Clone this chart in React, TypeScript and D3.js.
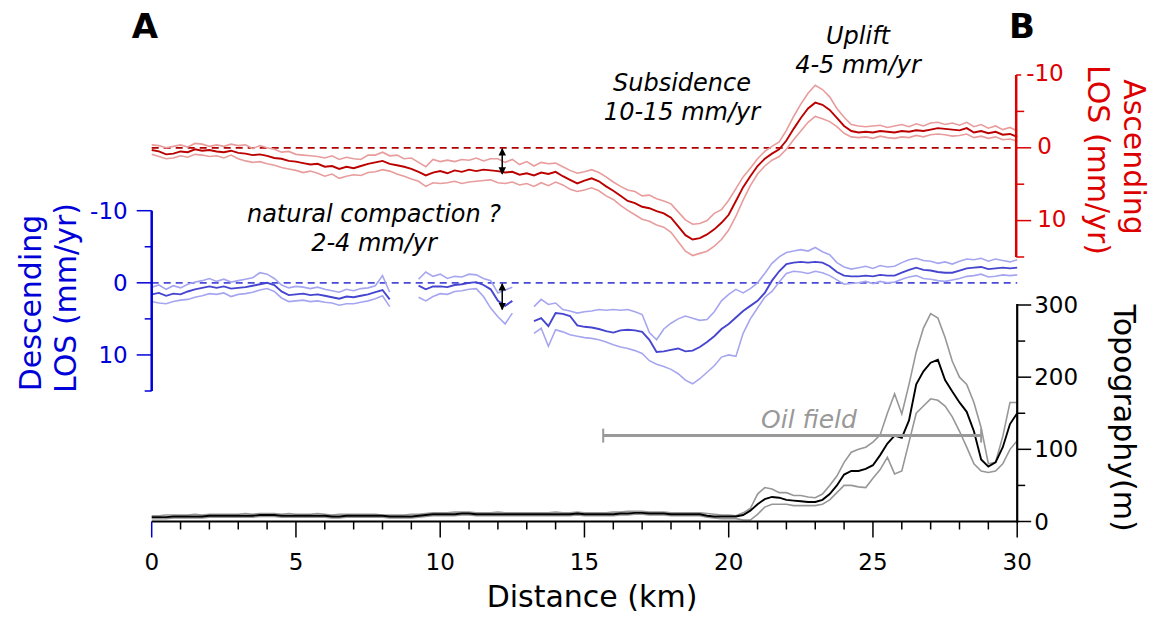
import React from "react";
import * as d3 from "d3";

// Sampling step along the profile (km)
const DIST_STEP_KM = 0.25;

// Ascending LOS velocity (mm/yr), mean and envelope
const ascMean = [
  0.3, 0.5, 0.9, 0.8, 0.5, 0.6, 0.2, 0.4, 0.3, 0.5, 0.6, 0.4, 0.7, 0.8, 1.0, 0.9, 1.1, 1.4, 1.5, 1.8, 1.9,
  2.1, 2.3, 2.2, 2.6, 2.5, 2.9, 2.6, 2.8, 2.5, 2.2, 2.0, 1.8, 2.2, 2.4, 2.6, 2.9, 3.3, 3.8, 3.4, 3.2,
  3.5, 3.1, 3.3, 3.0, 3.2, 3.0, 3.1, 3.2, 3.4, 3.3, 3.7, 3.5, 3.8, 3.4, 3.6, 3.3, 3.9, 4.4, 4.9, 4.5,
  4.2, 4.6, 5.3, 5.9, 6.6, 7.3, 7.6, 8.1, 8.3, 8.7, 9.0, 9.6, 10.8, 12.0, 12.6, 12.4, 11.9, 11.2, 10.3, 9.2,
  7.3, 5.4, 3.9, 2.5, 1.5, 0.8, 0.2, -1.0, -2.6, -4.1, -5.4, -6.2, -5.9, -5.2, -4.1, -3.0, -2.3, -2.1, -2.2, -2.1,
  -2.3, -2.2, -2.1, -2.3, -2.2, -2.4, -2.3, -2.5, -2.7, -2.6, -2.5, -2.4, -2.7, -2.1, -2.3, -2.0, -2.2, -1.8, -1.9, -1.5,
];
const ascUpper = [
  -0.4, -0.3, 0.0, -0.2, -0.4, -0.1, -0.6, -0.5, -0.2, -0.4, -0.2, -0.5, -0.3, -0.4, 0.1, -0.3, 0.0, 0.2, 0.6, 0.5, 0.9,
  1.0, 1.1, 1.2, 1.4, 1.1, 1.6, 1.3, 1.5, 1.6, 1.0, 1.0, 0.6, 1.1, 1.0, 1.5, 1.4, 2.0, 2.6, 1.6, 1.9,
  1.7, 1.9, 1.6, 1.7, 1.4, 1.8, 1.5, 1.5, 2.0, 1.6, 2.3, 1.9, 2.5, 2.0, 2.2, 2.1, 2.6, 3.1, 3.5, 3.3,
  3.0, 3.4, 4.0, 4.7, 5.3, 5.8, 6.0, 6.6, 6.5, 7.0, 7.3, 7.7, 8.8, 9.9, 10.5, 10.4, 10.0, 9.0, 8.5, 7.2,
  5.6, 4.0, 2.8, 1.5, 0.5, -0.2, -0.8, -2.4, -4.3, -6.0, -7.5, -8.6, -8.0, -7.0, -5.4, -4.2, -3.2, -3.0, -2.9, -3.0,
  -3.1, -2.8, -3.0, -3.2, -2.9, -3.3, -3.0, -3.4, -3.5, -3.2, -3.4, -3.1, -3.5, -2.9, -3.2, -2.7, -3.0, -2.5, -2.8, -2.3,
];
const ascLower = [
  0.9, 1.2, 1.5, 1.4, 1.1, 1.3, 0.9, 1.0, 1.2, 1.1, 1.4, 1.0, 1.5, 1.8, 2.0, 1.9, 2.2, 2.4, 2.7, 2.9, 3.1,
  3.4, 3.2, 3.5, 3.9, 3.6, 4.2, 3.9, 3.7, 3.8, 3.4, 3.3, 3.0, 3.2, 3.6, 3.9, 4.3, 4.6, 5.3, 4.8, 4.9,
  4.8, 4.6, 4.9, 4.7, 4.6, 4.5, 4.4, 4.8, 4.9, 4.7, 5.1, 4.9, 5.3, 4.8, 5.2, 4.7, 5.1, 5.7, 6.0, 5.8,
  5.5, 5.9, 6.6, 7.1, 7.9, 8.6, 9.2, 9.8, 10.1, 10.6, 10.9, 11.6, 12.9, 14.2, 14.8, 14.5, 14.2, 13.5, 12.6, 11.3,
  9.4, 7.2, 5.2, 3.6, 2.5, 1.7, 1.2, 0.2, -1.1, -2.3, -3.5, -4.3, -4.0, -3.6, -2.9, -2.0, -1.5, -1.4, -1.5, -1.3,
  -1.6, -1.4, -1.3, -1.5, -1.4, -1.7, -1.5, -1.8, -1.9, -1.8, -1.6, -1.7, -1.9, -1.4, -1.6, -1.3, -1.5, -1.1, -1.2, -0.9,
];

// Descending LOS velocity (mm/yr), mean and envelope (null = no data)
const descMean = [
  1.6, 1.4, 1.8, 1.5, 1.6, 1.2, 0.9, 0.7, 0.5, 0.7, 0.5, 0.8, 0.7, 0.6, 0.4, 0.2, 0.0, 0.3, 1.2, 1.7, 1.6,
  1.5, 1.7, 1.6, 1.8, 2.0, 2.2, 1.9, 2.0, 1.8, 1.6, 1.3, 1.0, 2.3, null, null, null, 0.4, 0.9, 0.5, 0.5,
  0.6, 0.3, 0.2, 0.0, -0.1, 0.3, 0.9, 2.5, 3.2, 2.5, null, null, 5.3, 4.9, 6.0, 4.2, 4.3, 4.6, 5.9, 6.1,
  6.2, 6.4, 6.7, 6.9, 6.6, 6.5, 6.6, 6.8, 7.9, 9.6, 9.5, 9.3, 9.1, 9.5, 9.4, 8.9, 8.2, 7.4, 6.4, 5.7,
  4.8, 3.9, 3.2, 2.5, 1.4, -0.3, -1.6, -2.6, -2.8, -2.9, -2.8, -2.9, -2.8, -2.3, -1.5, -1.0, -0.9, -0.9, -1.0, -0.9,
  -1.1, -1.0, -1.0, -1.4, -1.8, -2.1, -1.8, -1.7, -1.5, -1.4, -1.4, -1.7, -2.0, -2.1, -2.2, -1.9, -2.0, -2.1, -2.0, -2.1,
];
const descUpper = [
  0.6, 0.3, 0.9, 0.4, 0.7, 0.2, -0.1, -0.3, -0.6, -0.2, -0.5, -0.1, -0.3, -0.5, -0.7, -1.4, -1.2, -0.6, 0.3, 0.7, 0.5,
  0.6, 0.8, 0.6, 0.9, 1.1, 1.3, 0.9, 1.1, 0.8, 0.7, 0.4, -1.0, 1.3, null, null, null, -0.5, -1.5, -0.9, -1.2,
  -0.6, -0.9, -0.8, -1.2, -1.1, -0.6, -0.3, 1.4, 1.0, 0.6, null, null, 3.3, 2.3, 3.0, 2.8, 3.7, 3.9, 4.2, 4.0,
  3.9, 3.7, 3.8, 3.7, 3.8, 3.7, 4.0, 4.4, 6.9, 7.9, 6.4, 5.6, 5.0, 4.6, 4.9, 5.2, 5.1, 4.0, 2.5, 1.6,
  0.9, 1.4, 0.8, 0.0, -1.3, -2.7, -3.6, -4.2, -4.4, -4.6, -4.4, -4.9, -4.3, -3.9, -2.8, -2.2, -1.9, -2.1, -2.3, -2.0,
  -2.4, -2.2, -2.3, -2.8, -3.2, -3.4, -3.1, -3.0, -2.7, -2.9, -2.6, -3.0, -3.3, -3.2, -3.4, -3.0, -3.3, -3.1, -2.9, -3.2,
];
const descLower = [
  2.6, 2.8, 2.9, 2.6, 2.4, 2.3, 2.0, 1.8, 1.5, 1.6, 1.4, 1.9, 1.6, 1.5, 1.3, 1.0, 0.8, 1.2, 2.1, 2.6, 2.5,
  2.4, 2.6, 2.5, 2.7, 2.8, 3.1, 2.9, 2.9, 2.7, 2.5, 2.2, 1.8, 3.3, null, null, null, 2.0, 2.5, 1.9, 1.5,
  1.6, 1.2, 1.1, 0.9, 0.8, 1.9, 3.5, 4.7, 5.7, 4.2, null, null, 7.0, 6.3, 8.8, 6.5, 6.8, 7.2, 7.4, 7.6,
  7.7, 7.9, 8.2, 8.6, 8.9, 9.1, 9.4, 9.8, 10.8, 11.3, 11.6, 12.0, 12.6, 13.5, 14.0, 13.3, 12.4, 11.5, 10.3, 10.0,
  10.2, 7.0, 5.0, 3.5, 2.0, 1.2, -0.1, -1.3, -1.6, -1.5, -1.3, -1.6, -1.4, -1.0, -0.4, 0.2, 0.1, 0.0, -0.2, 0.1,
  -0.2, 0.0, -0.1, -0.5, -0.8, -1.0, -0.6, -0.5, -0.3, -0.2, -0.4, -0.6, -0.9, -1.0, -1.2, -0.8, -0.9, -1.1, -1.0, -1.1,
];

// Topography (m), mean and envelope
const topoMean = [
  6, 6, 6, 7, 7, 7, 7, 7, 8, 8, 8, 8, 8, 8, 8, 9, 9, 9, 8, 8, 8,
  8, 8, 8, 8, 7, 7, 8, 8, 8, 8, 8, 8, 7, 7, 7, 7, 8, 9, 10, 10,
  10, 10, 11, 11, 10, 10, 10, 10, 10, 10, 10, 10, 10, 10, 10, 10, 10, 10, 11, 10,
  10, 10, 10, 10, 11, 11, 12, 12, 11, 11, 11, 10, 10, 10, 10, 10, 8, 7, 7, 7,
  7, 9, 15, 24, 31, 34, 33, 30, 29, 28, 27, 27, 30, 38, 50, 65, 70, 70, 73, 78,
  92, 108, 119, 116, 140, 190, 208, 220, 224, 196, 180, 165, 152, 125, 86, 76, 82, 103, 135, 150,
];
const topoUpper = [
  8, 8, 9, 9, 9, 9, 10, 9, 10, 10, 10, 10, 10, 11, 10, 11, 11, 11, 10, 11, 10,
  10, 10, 11, 10, 9, 10, 10, 10, 10, 10, 10, 9, 9, 9, 9, 10, 10, 11, 12, 12,
  12, 13, 13, 13, 12, 12, 12, 13, 12, 12, 12, 12, 12, 12, 12, 13, 12, 12, 13, 12,
  12, 12, 12, 13, 13, 14, 14, 14, 13, 13, 13, 12, 12, 12, 12, 12, 11, 10, 9, 9,
  8, 12, 18, 38, 47, 45, 40, 40, 36, 36, 34, 33, 38, 50, 63, 82, 96, 100, 103, 110,
  120, 150, 177, 149, 190, 235, 268, 288, 282, 255, 222, 200, 190, 165, 130, 80, 82, 118, 165, 165,
];
const topoLower = [
  4, 4, 4, 5, 5, 5, 5, 5, 6, 6, 6, 6, 6, 6, 6, 7, 7, 7, 6, 6, 6,
  6, 6, 6, 6, 5, 5, 6, 6, 6, 6, 6, 6, 5, 5, 5, 5, 6, 7, 8, 8,
  8, 8, 9, 9, 8, 8, 8, 8, 8, 8, 8, 8, 8, 8, 8, 8, 8, 8, 9, 8,
  8, 8, 8, 8, 9, 9, 10, 10, 9, 9, 9, 8, 8, 8, 8, 8, 6, 5, 4, 4,
  4, 2, 2, 10, 20, 24, 24, 24, 22, 22, 22, 22, 24, 30, 40, 50, 50, 48, 47, 60,
  72, 89, 66, 70, 110, 150, 160, 170, 168, 160, 145, 125, 103, 80, 70, 68, 70, 80, 100, 112,
];

// Annotations
const compactionArrowKm = 12.15;
const compactionAscMm = 3.6;
const compactionDescMm = 3.7;
const oilFieldKm = [15.65, 28.75];
const oilFieldLevelM = 119;

const FONT = "DejaVu Sans, sans-serif";
const RED_AXIS = "#dc0000";
const BLUE_AXIS = "#0000d8";

type V = number | null;

export default function App() {
  const x = d3.scaleLinear().domain([0, 30]).range([151.7, 1017.2]);
  const yAsc = d3.scaleLinear().domain([-10, 15]).range([75, 257]);
  const yDesc = d3.scaleLinear().domain([-10, 15]).range([210.7, 391]);
  const yTopo = d3.scaleLinear().domain([0, 300]).range([521.5, 305]);

  const path = (vals: V[], y: d3.ScaleLinear<number, number>, curve: d3.CurveFactory = d3.curveLinear) =>
    d3
      .line<V>()
      .defined((v) => v !== null && v !== undefined)
      .x((_, i) => x(i * DIST_STEP_KM))
      .y((v) => y(v as number))
      .curve(curve)(vals) || "";

  const xTicks = x.ticks(30);
  const velTicks = yAsc.ticks(5);
  const topoTicks = yTopo.ticks(6);
  const axisY = yTopo(0);
  const xR = x(30);
  const xL = x(0);

  const ascTickLen = (t: number) => (t === -10 ? 5 : t % 10 === 0 ? 15 : 8);

  return (
    <svg
      width={1164}
      height={620}
      style={{ position: "absolute", left: 0, top: 0, background: "#fff" }}
      fontFamily={FONT}
    >
      <defs>
        <marker id="ah" viewBox="0 0 10 10" refX="9" refY="5" markerWidth="5" markerHeight="6" orient="auto-start-reverse">
          <path d="M0,0 L10,5 L0,10 z" fill="#000" />
        </marker>
      </defs>

      {/* zero reference lines */}
      <line x1={xL} x2={xR} y1={yAsc(0)} y2={yAsc(0)} stroke="#b00000" strokeWidth={1.8} strokeDasharray="7,5" />
      <line x1={xL} x2={xR} y1={yDesc(0)} y2={yDesc(0)} stroke="#4a4ad8" strokeWidth={1.8} strokeDasharray="7,5" />

      {/* Ascending */}
      <path d={path(ascUpper, yAsc)} fill="none" stroke="#e89c9c" strokeWidth={1.6} />
      <path d={path(ascLower, yAsc)} fill="none" stroke="#e89c9c" strokeWidth={1.6} />
      <path d={path(ascMean, yAsc)} fill="none" stroke="#bb0000" strokeWidth={1.9} />

      {/* Descending */}
      <path d={path(descUpper, yDesc)} fill="none" stroke="#a6a6f0" strokeWidth={1.6} />
      <path d={path(descLower, yDesc)} fill="none" stroke="#a6a6f0" strokeWidth={1.6} />
      <path d={path(descMean, yDesc)} fill="none" stroke="#4545cf" strokeWidth={1.9} />

      {/* Topography */}
      <path d={path(topoUpper, yTopo)} fill="none" stroke="#979797" strokeWidth={1.6} />
      <path d={path(topoLower, yTopo)} fill="none" stroke="#979797" strokeWidth={1.6} />
      <path d={path(topoMean, yTopo)} fill="none" stroke="#000" strokeWidth={1.9} />

      {/* Oil field */}
      <line x1={x(oilFieldKm[0])} x2={x(oilFieldKm[1])} y1={yTopo(oilFieldLevelM)} y2={yTopo(oilFieldLevelM)} stroke="#999" strokeWidth={3} />
      <line x1={x(oilFieldKm[0])} x2={x(oilFieldKm[0])} y1={yTopo(oilFieldLevelM) - 7} y2={yTopo(oilFieldLevelM) + 7} stroke="#999" strokeWidth={2} />
      <line x1={x(oilFieldKm[1])} x2={x(oilFieldKm[1])} y1={yTopo(oilFieldLevelM) - 7} y2={yTopo(oilFieldLevelM) + 7} stroke="#999" strokeWidth={2} />
      <text x={809} y={428} fontSize={25} fontStyle="italic" fill="#999" textAnchor="middle">Oil field</text>

      {/* compaction arrows */}
      <line x1={x(compactionArrowKm)} x2={x(compactionArrowKm)} y1={yAsc(0) + 1} y2={yAsc(compactionAscMm)} stroke="#000" strokeWidth={1.5} markerStart="url(#ah)" markerEnd="url(#ah)" />
      <line x1={x(compactionArrowKm)} x2={x(compactionArrowKm)} y1={yDesc(0) + 1} y2={yDesc(compactionDescMm)} stroke="#000" strokeWidth={1.5} markerStart="url(#ah)" markerEnd="url(#ah)" />

      {/* Bottom axis */}
      <line x1={xL} x2={xR + 1} y1={axisY} y2={axisY} stroke="#000" strokeWidth={2.2} />
      {xTicks.map((t) => (
        <line key={"xt" + t} x1={x(t)} x2={x(t)} y1={axisY} y2={axisY + (t % 5 === 0 ? 16 : 8)} stroke={t === 0 ? BLUE_AXIS : "#000"} strokeWidth={1.5} />
      ))}
      {xTicks.filter((t) => t % 5 === 0).map((t) => (
        <text key={"xl" + t} x={x(t)} y={569.5} fontSize={23} textAnchor="middle" fill="#000">{t}</text>
      ))}
      <text x={592} y={607} fontSize={30} textAnchor="middle" fill="#000">Distance (km)</text>

      {/* Topography axis */}
      <line x1={xR} x2={xR} y1={yTopo(300) - 1} y2={axisY + 1} stroke="#000" strokeWidth={2.2} />
      {topoTicks.map((t) => (
        <line key={"tt" + t} x1={xR} x2={xR + (t % 100 === 0 ? 14 : 8)} y1={yTopo(t)} y2={yTopo(t)} stroke="#000" strokeWidth={1.5} />
      ))}
      {topoTicks.filter((t) => t % 100 === 0).map((t) => (
        <text key={"tl" + t} x={xR + 17} y={yTopo(t)} dy="0.35em" fontSize={23} fill="#000">{t}</text>
      ))}
      <text transform={`translate(1114,418) rotate(90)`} fontSize={30} textAnchor="middle" fill="#000">Topography(m)</text>

      {/* Ascending axis */}
      <line x1={xR - 1} x2={xR - 1} y1={yAsc(-10)} y2={yAsc(15)} stroke={RED_AXIS} strokeWidth={2.5} />
      {velTicks.map((t) => (
        <line key={"at" + t} x1={xR - 1} x2={xR - 1 + ascTickLen(t)} y1={yAsc(t)} y2={yAsc(t)} stroke={RED_AXIS} strokeWidth={1.5} />
      ))}
      {velTicks.filter((t) => t % 10 === 0).map((t) => (
        <text key={"al" + t} x={xR + 20 - (t < 0 ? 11 : 0)} y={yAsc(t) - 2} dy="0.35em" fontSize={23} fill={RED_AXIS}>{t}</text>
      ))}
      <text transform={`translate(1124,157) rotate(90)`} fontSize={30} textAnchor="middle" fill={RED_AXIS}>Ascending</text>
      <text transform={`translate(1088,160) rotate(90)`} fontSize={30} textAnchor="middle" fill={RED_AXIS}>LOS (mm/yr)</text>

      {/* Descending axis */}
      <line x1={xL} x2={xL} y1={yDesc(-10)} y2={yDesc(15)} stroke={BLUE_AXIS} strokeWidth={2.5} />
      {velTicks.map((t) => (
        <line key={"dt" + t} x1={xL} x2={xL - (t % 10 === 0 ? 15 : 7)} y1={yDesc(t)} y2={yDesc(t)} stroke={BLUE_AXIS} strokeWidth={1.5} />
      ))}
      {velTicks.filter((t) => t % 10 === 0).map((t) => (
        <text key={"dl" + t} x={xL - 24} y={yDesc(t)} dy="0.35em" fontSize={23} textAnchor="end" fill={BLUE_AXIS}>{t}</text>
      ))}
      <text transform={`translate(41,303) rotate(-90)`} fontSize={30} textAnchor="middle" fill={BLUE_AXIS}>Descending</text>
      <text transform={`translate(76,298) rotate(-90)`} fontSize={30} textAnchor="middle" fill={BLUE_AXIS}>LOS (mm/yr)</text>

      {/* Annotations (two-line labels) */}
      <g fontSize={24} fontStyle="italic" fill="#000" textAnchor="middle">
        <text x={858} y={44}>Uplift</text>
        <text x={858} y={73}>4-5 mm/yr</text>
        <text x={682} y={91}>Subsidence</text>
        <text x={682} y={120}>10-15 mm/yr</text>
        <text x={374} y={222}>natural compaction ?</text>
        <text x={374} y={251}>2-4 mm/yr</text>
      </g>

      <text x={145} y={38} fontSize={34} fontWeight="bold" textAnchor="middle" fill="#000">A</text>
      <text x={1022} y={38} fontSize={34} fontWeight="bold" textAnchor="middle" fill="#000">B</text>
    </svg>
  );
}
